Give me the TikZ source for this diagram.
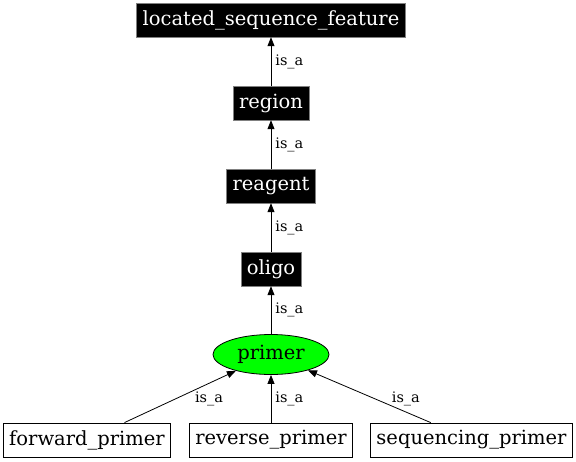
\documentclass[tikz,border=0pt]{standalone}
\usepackage{fontspec}
\setmainfont{DejaVu Serif}
\usetikzlibrary{shapes.geometric,arrows.meta,positioning}

\begin{document}
\begin{tikzpicture}[>={Triangle[length=9pt,width=7pt]},node distance=83pt,on grid,
  term/.style ={rectangle,fill=black,draw=gray,text=white,minimum height=34pt,inner xsep=6pt,font=\fontsize{19.5}{22}\selectfont},
  leaf/.style ={rectangle,draw=black,line width=0.8pt,minimum height=34pt,inner xsep=6pt,font=\fontsize{19.5}{22}\selectfont},
  focus/.style={ellipse,draw=black,line width=0.8pt,fill=green,minimum width=116pt,minimum height=40pt,inner sep=0pt,font=\fontsize{19.5}{22}\selectfont}]
  \useasboundingbox (0,0) rectangle (576pt,-461pt);
  \node[focus]          (P) at (271pt,-354.5pt)    {primer};
  \node[term]           (O)  [above=85.5pt of P]   {oligo};
  \node[term]           (RG) [above=of O]          {reagent};
  \node[term]           (R)  [above=of RG]         {region};
  \node[term]           (L)  [above=of R]          {located\_sequence\_feature};
  \node[leaf]           (RP) [below=85.5pt of P]   {reverse\_primer};
  \node[leaf]           (F)  [left=184pt of RP]    {forward\_primer};
  \node[leaf]           (S)  [right=200.5pt of RP] {sequencing\_primer};
\tikzset{isa/.style={->,line width=0.8pt}}
\tikzset{every node/.style={font=\fontsize{14.5}{17}\selectfont,inner sep=1pt}}
\path (R)     edge [isa]   node [anchor=west,xshift=3pt] {is\_a} (L)
      (RG)    edge [isa]   node [anchor=west,xshift=3pt] {is\_a} (R)
      (O)     edge [isa]   node [anchor=west,xshift=3pt] {is\_a} (RG)
      (P)     edge [isa]   node [anchor=west,xshift=3pt] {is\_a} (O);
\path (F)     edge [isa]   node [pos=0.45,anchor=west,xshift=19pt] {is\_a} (P)
      (RP)    edge [isa]   node [anchor=west,xshift=3pt] {is\_a} (P)
      (S)     edge [isa]   node [pos=0.45,anchor=west,xshift=15pt] {is\_a} (P);
\end{tikzpicture}
\end{document}
